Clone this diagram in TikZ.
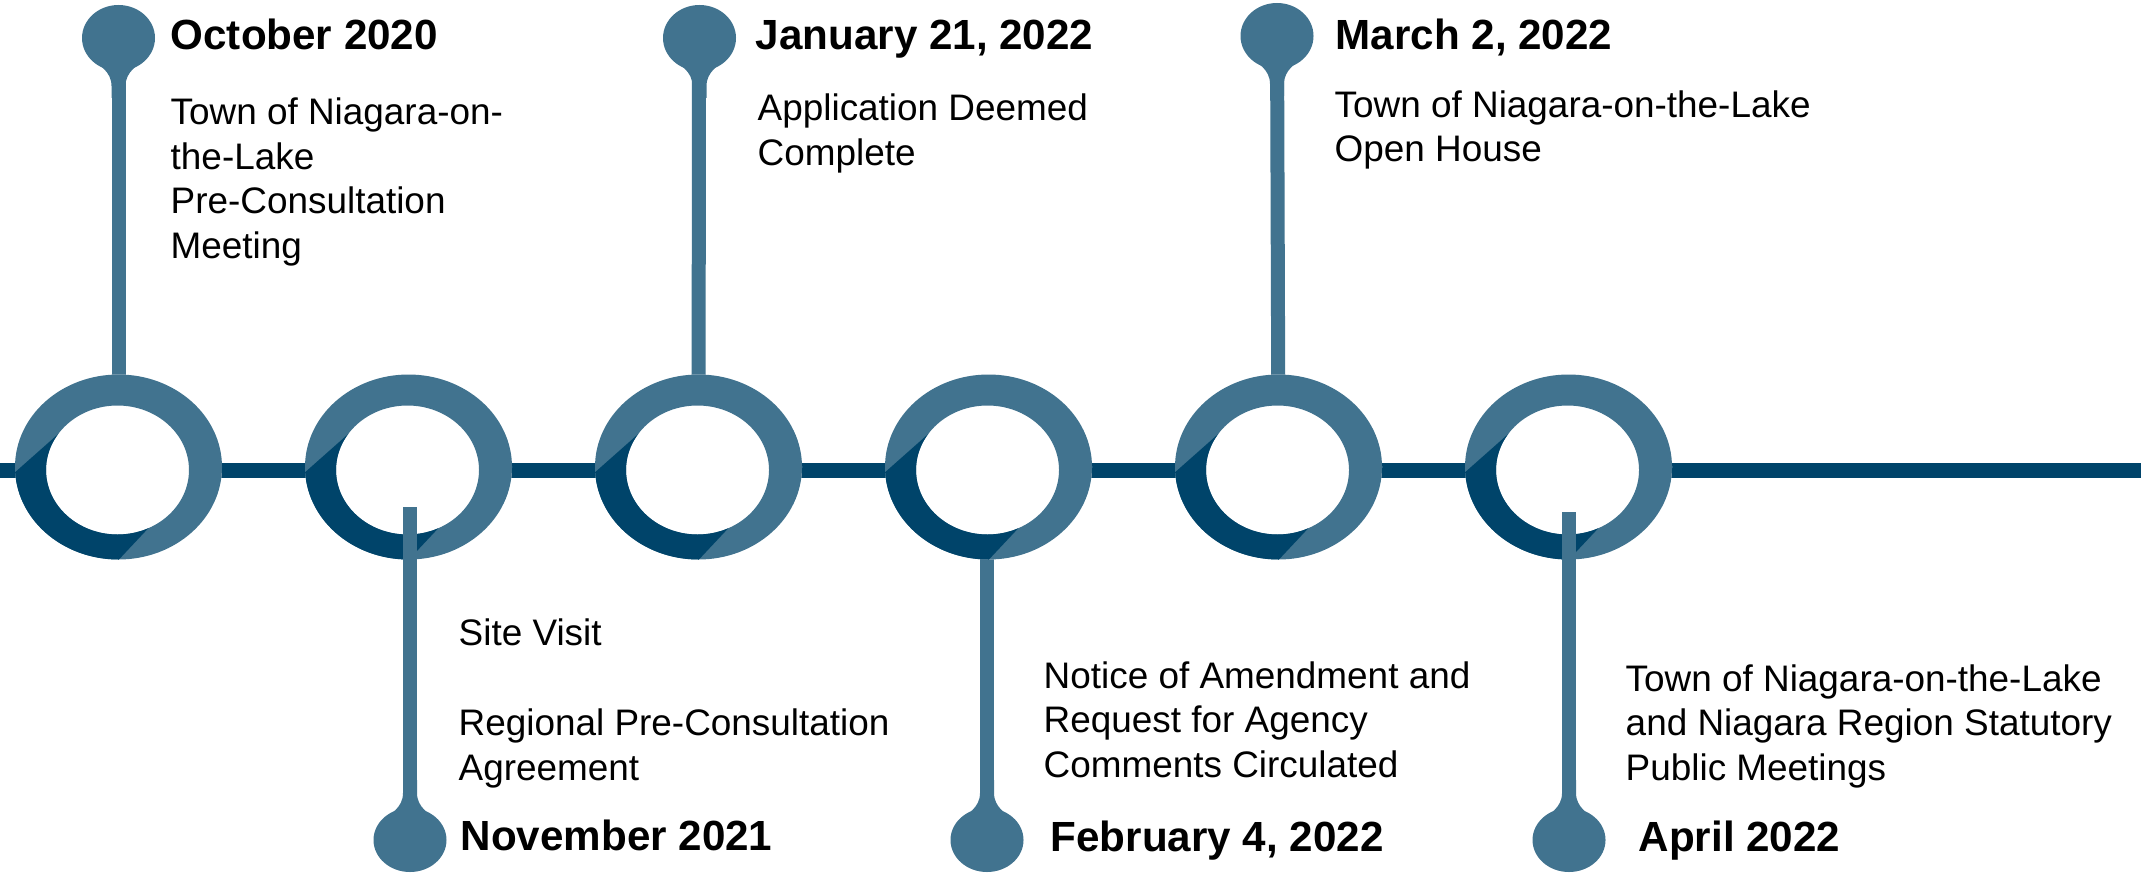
\documentclass[tikz,border=0pt]{standalone}
\usepackage{fontspec}
\setmainfont{Liberation Sans}
\usepackage{tikz}
\definecolor{pinblue}{HTML}{41738F}
\definecolor{lineblue}{HTML}{00446A}

\begin{document}
\begin{tikzpicture}[x=0.1mm,y=-0.1mm,
		every node/.style={inner sep=0pt,anchor=base west,align=left},
		datelabel/.style={font=\fontsize{12}{14}\selectfont\bfseries},
		notelabel/.style={font=\fontsize{10.5}{12.65}\selectfont},
		pinstem/.style={draw=pinblue,line width=1.4mm},
		ringlight/.style={fill=pinblue,even odd rule},
		ringdark/.style={fill=lineblue,even odd rule}]
		\useasboundingbox (0,0) rectangle (2141,874);

		% time axis
		\coordinate (start) at (0,470);
		\coordinate (end) at (2141,470);
		\draw[lineblue,line width=1.5mm] (start) -- (end);

		\coordinate (r1) at (118.5,467);
		\coordinate (r2) at (408.5,467);
		\coordinate (r3) at (698.5,467);
		\coordinate (r4) at (988.5,467);
		\coordinate (r5) at (1278.5,467);
		\coordinate (r6) at (1568.5,467);

		% stems behind the rings
		\draw[pinstem] (118.5,38) -- (r1);
		\draw[pinstem] (699,38) -- (r3);
		\draw[pinstem] (1277,36) -- (r5);
		\draw[pinstem] (987,840) -- (987,540);

		% rings
		\foreach \c in {r1,r2,r3,r4,r5,r6} {
			\begin{scope}[shift={(\c)}]
				\fill[white] (0,0) ellipse [x radius=10.35mm, y radius=9.25mm];
				\fill[ringlight] (0,0) ellipse [x radius=10.35mm, y radius=9.25mm]
					(-1,3) ellipse [x radius=7.15mm, y radius=6.45mm];
				\begin{scope}
					\clip (-128,27) -- (-58,-35) -- (0,0) -- (30,61) -- (-16,110) -- (-140,110) -- cycle;
					\fill[ringdark] (0,0) ellipse [x radius=10.35mm, y radius=9.25mm]
						(-1,3) ellipse [x radius=7.15mm, y radius=6.45mm];
				\end{scope}
			\end{scope}
		}

		% stems in front of the rings
		\draw[pinstem] (410,507) -- (410,840);
		\draw[pinstem] (1569,512) -- (1569,840);

		% pin heads
		\foreach \hx/\hy in {118.5/38, 699.5/38, 1277/36} {
			\begin{scope}[shift={(\hx,\hy)}]
				\fill[pinblue] (0,0) ellipse [x radius=3.65mm, y radius=3.3mm];
				\fill[pinblue] (-29,19) .. controls (-20,27) and (-7,33) .. (-7,48) -- (-7,60)
					-- (7,60) -- (7,48) .. controls (7,33) and (20,27) .. (29,19) -- cycle;
			\end{scope}
		}
		\foreach \hx/\hy in {410/840, 987/840, 1569/840} {
			\begin{scope}[shift={(\hx,\hy)},yscale=-1]
				\fill[pinblue] (0,0) ellipse [x radius=3.65mm, y radius=3.2mm];
				\fill[pinblue] (-29,18) .. controls (-20,26) and (-7,32) .. (-7,47) -- (-7,60)
					-- (7,60) -- (7,47) .. controls (7,32) and (20,26) .. (29,18) -- cycle;
			\end{scope}
		}

		% labels above (base = last line)
		\node[datelabel] (d1) at (170,50) {October 2020};
		\node[notelabel] (n1) at (170,258) {Town of Niagara-on-\\the-Lake\\Pre-Consultation\\Meeting};
		\node[datelabel] (d3) at (755,50) {January 21, 2022};
		\node[notelabel] (n3) at (757,165) {Application Deemed\\Complete};
		\node[datelabel] (d5) at (1335,50) {March 2, 2022};
		\node[notelabel] (n5) at (1334,162) {Town of Niagara-on-the-Lake\\Open House};

		% labels below
		\node[notelabel] (s2) at (458,645) {Site Visit};
		\node[notelabel] (n2) at (458,780) {Regional Pre-Consultation\\Agreement};
		\node[datelabel] (d2) at (460,850) {November 2021};
		\node[notelabel] (n4) at (1043,777) {Notice of Amendment and\\Request for Agency\\Comments Circulated};
		\node[datelabel] (d4) at (1050,851) {February 4, 2022};
		\node[notelabel] (n6) at (1625,780) {Town of Niagara-on-the-Lake\\and Niagara Region Statutory\\Public Meetings};
		\node[datelabel] (d6) at (1638,851) {April 2022};
	\end{tikzpicture}
\end{document}
